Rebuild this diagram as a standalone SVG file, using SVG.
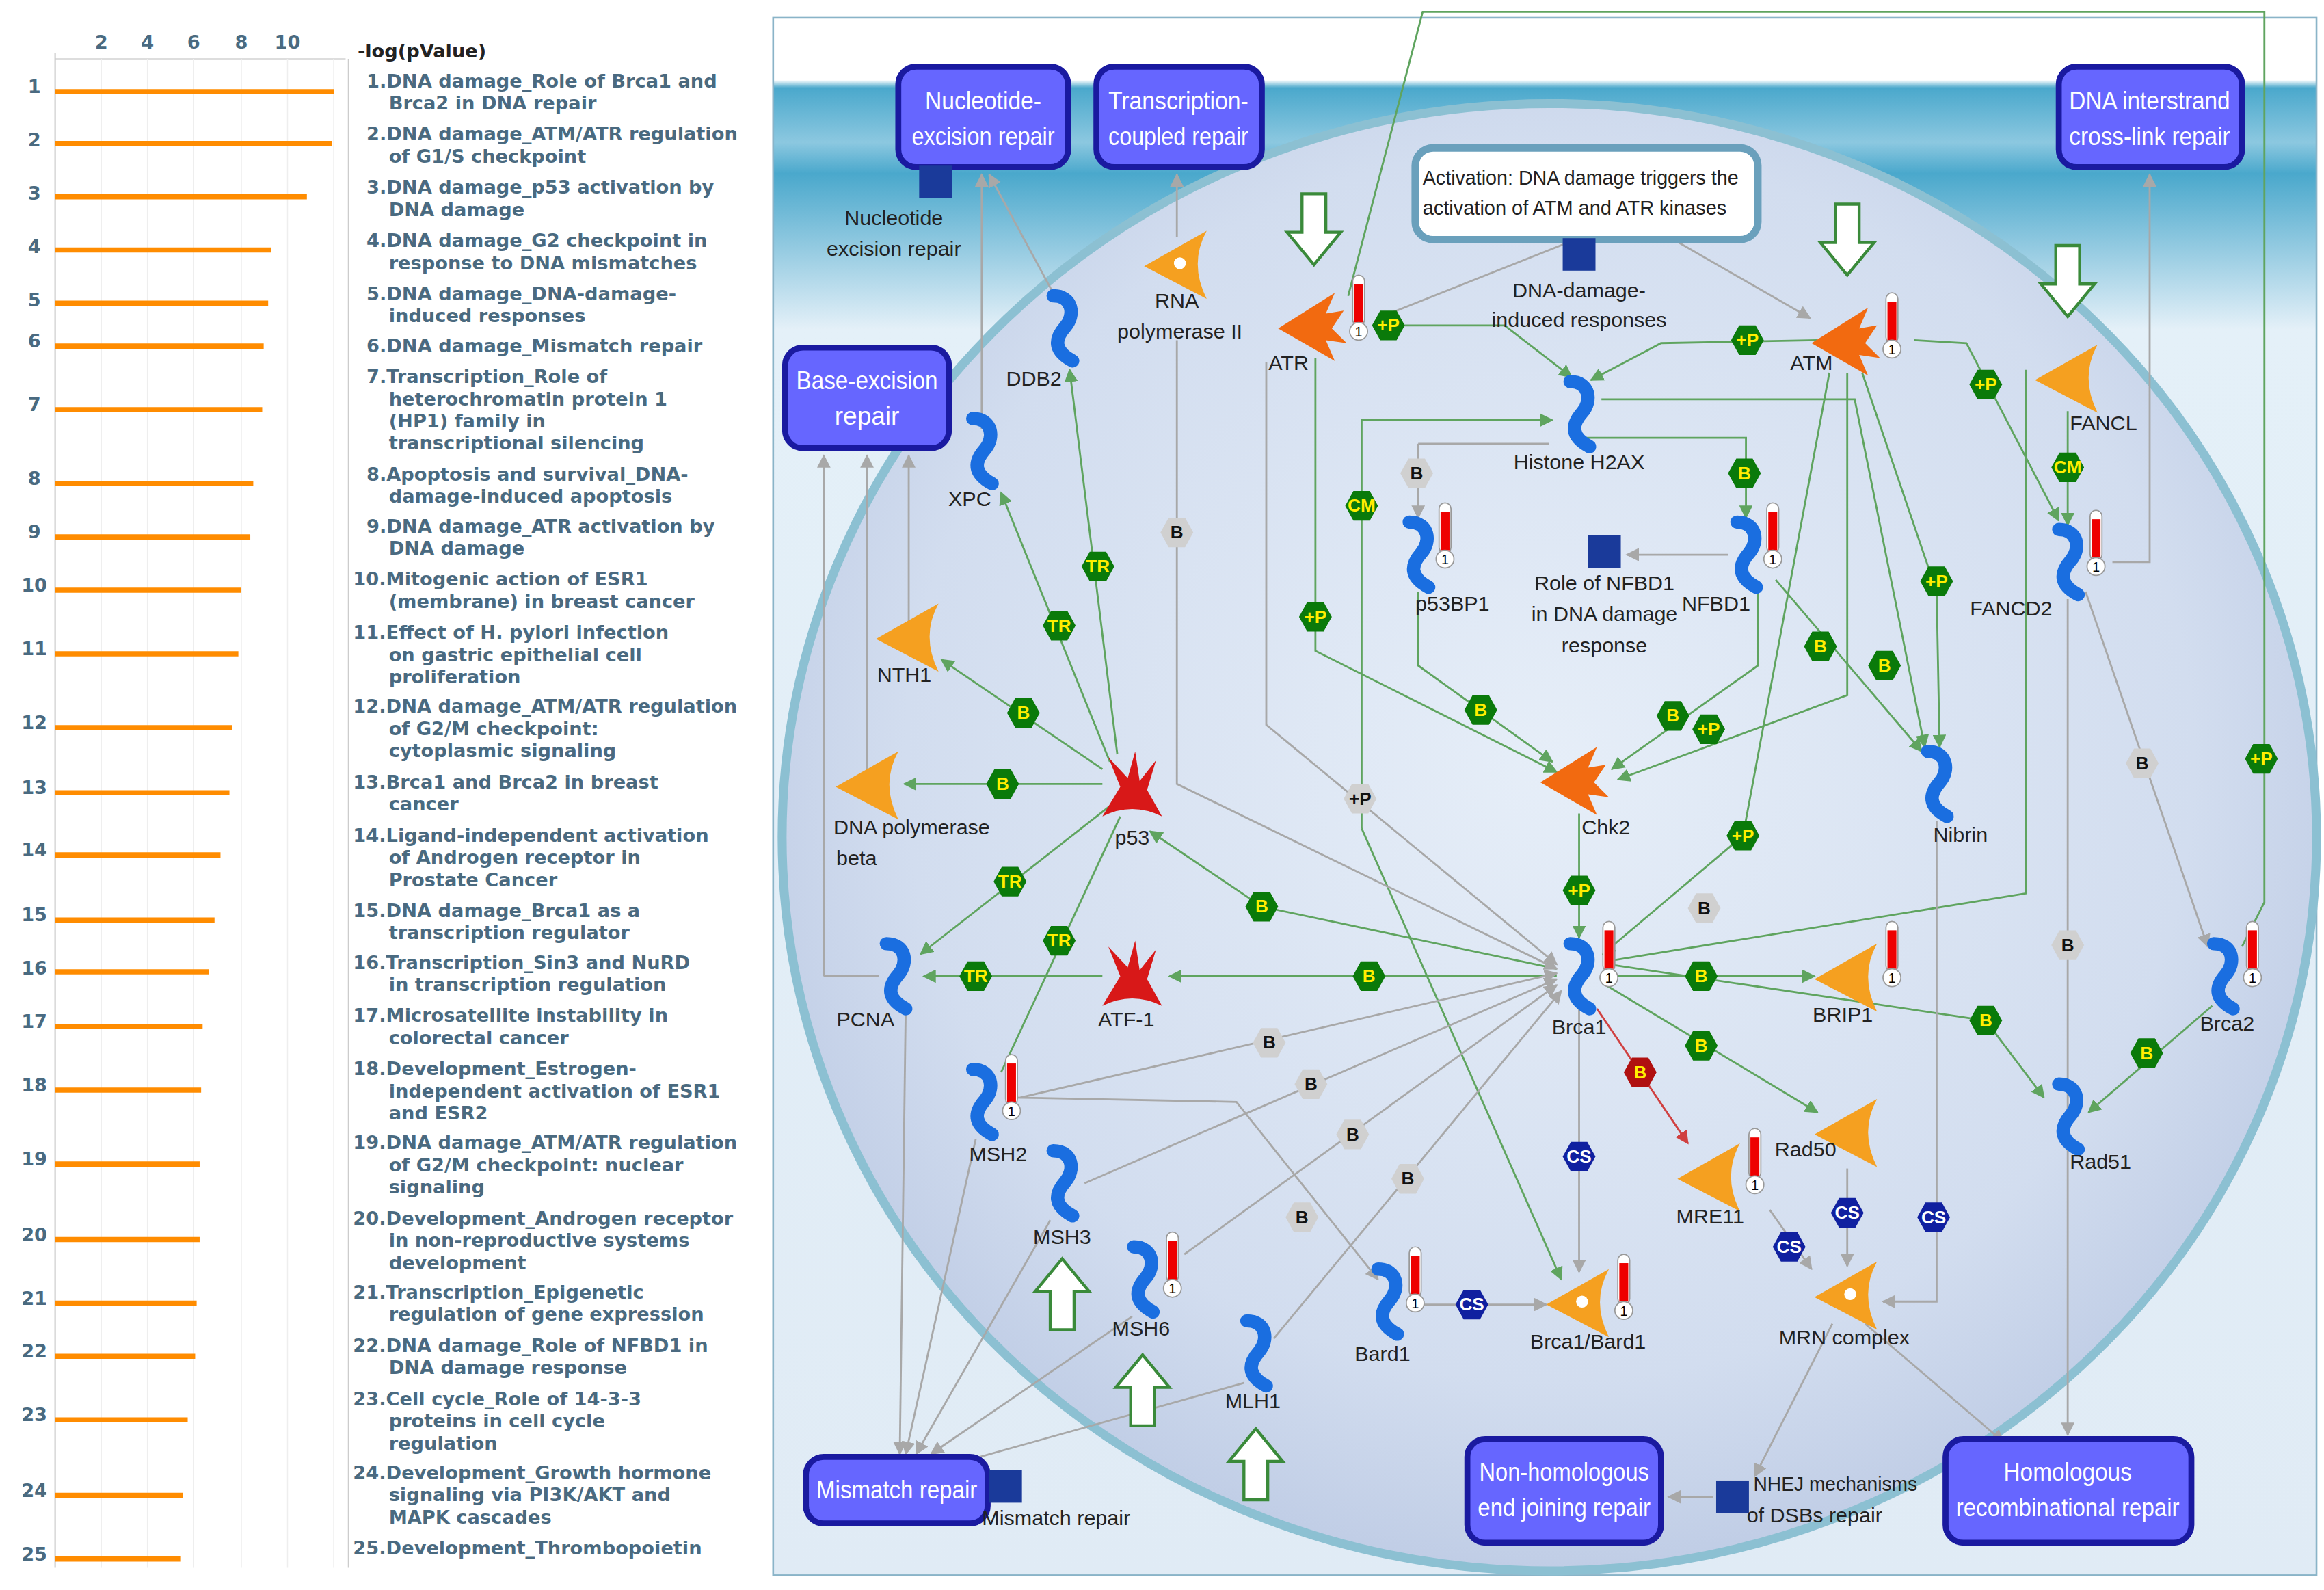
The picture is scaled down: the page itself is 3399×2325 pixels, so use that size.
<svg xmlns="http://www.w3.org/2000/svg" xmlns:xlink="http://www.w3.org/1999/xlink" width="3399" height="2325" viewBox="0 0 3399 2325">
<style>
.lbl{font-family:"Liberation Sans",Arial,sans-serif;font-size:14px;fill:#222;text-anchor:middle}
.box text{font-family:"Liberation Sans",Arial,sans-serif;font-size:17px;fill:#fff;text-anchor:middle}
.lst{font-family:"DejaVu Sans",sans-serif;font-weight:bold;font-size:12.5px;fill:#4a6a80}
.num{font-family:"DejaVu Sans",sans-serif;font-weight:bold;font-size:12.5px;fill:#4a6a80;text-anchor:middle}
.bar{stroke:#ff8c00;stroke-width:3.5}
.g{fill:none;stroke:#5fa45f;stroke-width:1.3}
.y{fill:none;stroke:#a8a8a8;stroke-width:1.3}
.r{fill:none;stroke:#d04040;stroke-width:1.3}
.hx text{font-family:"Liberation Sans",Arial,sans-serif;font-weight:bold;font-size:12px;text-anchor:middle}
</style>
<defs>
<marker id="ag" viewBox="0 0 10 10" refX="9" refY="5" markerWidth="7" markerHeight="7" orient="auto"><path d="M0,0L10,5L0,10z" fill="#5fa45f"/></marker>
<marker id="ay" viewBox="0 0 10 10" refX="9" refY="5" markerWidth="7" markerHeight="7" orient="auto"><path d="M0,0L10,5L0,10z" fill="#a8a8a8"/></marker>
<marker id="ar" viewBox="0 0 10 10" refX="9" refY="5" markerWidth="7" markerHeight="7" orient="auto"><path d="M0,0L10,5L0,10z" fill="#d04040"/></marker>
<radialGradient id="cell" cx="0.5" cy="0.45" r="0.6"><stop offset="0" stop-color="#e6eef8"/><stop offset="0.7" stop-color="#d2ddef"/><stop offset="1" stop-color="#b9c7e2"/></radialGradient>
<linearGradient id="bg" x1="0" y1="0" x2="0" y2="1"><stop offset="0" stop-color="#ffffff"/><stop offset="0.04" stop-color="#ffffff"/><stop offset="0.045" stop-color="#4aa8cc"/><stop offset="0.08" stop-color="#8cc8e0"/><stop offset="0.1" stop-color="#4aa8cc"/><stop offset="0.2" stop-color="#e4f0f8"/><stop offset="1" stop-color="#e0ebf5"/></linearGradient>
<symbol id="prot" overflow="visible"><path d="M-6,-22 C7,-22 9,-9 2,-1 C-5,7 -6,15 7,22" fill="none" stroke="#1a6ee0" stroke-width="9" stroke-linecap="round"/></symbol>
<symbol id="kin" overflow="visible"><path d="M-24,2 L14,-22 L8,-8 L20,-10 L12,2 L22,12 L8,10 L14,24 Z" fill="#f26a10"/></symbol>
<symbol id="cre" overflow="visible"><path d="M-22,2 L20,-22 Q8,0 20,24 Z" fill="#f5a020"/></symbol>
<symbol id="tf" overflow="visible"><path d="M-20,20 L-8,0 L-16,-20 L-3,-6 L2,-24 L5,-4 L16,-18 L10,2 L20,20 Q0,10 -20,20 Z" fill="#d81818"/></symbol>
<symbol id="th" overflow="visible"><rect x="-4" y="-22" width="8" height="34" rx="4" fill="#fff" stroke="#999" stroke-width="0.8"/><rect x="-3" y="-16" width="6" height="26" fill="#e00"/><circle cx="0" cy="16" r="6" fill="#fff" stroke="#999" stroke-width="0.8"/><text x="0" y="19.5" font-family="Liberation Sans,sans-serif" font-size="9" text-anchor="middle">1</text></symbol>
<symbol id="sq" overflow="visible"><rect x="-11" y="-11" width="22" height="22" fill="#1a3a9a"/></symbol>
<symbol id="hexg" overflow="visible"><polygon points="-5.5,-10 5.5,-10 11,0 5.5,10 -5.5,10 -11,0" fill="#0a7a0a"/></symbol>
<symbol id="hexy" overflow="visible"><polygon points="-5.5,-10 5.5,-10 11,0 5.5,10 -5.5,10 -11,0" fill="#d0d0d0"/></symbol>
<symbol id="hexc" overflow="visible"><polygon points="-5.5,-10 5.5,-10 11,0 5.5,10 -5.5,10 -11,0" fill="#1020a0"/></symbol>
<symbol id="hexr" overflow="visible"><polygon points="-5.5,-10 5.5,-10 11,0 5.5,10 -5.5,10 -11,0" fill="#b01010"/></symbol>
<symbol id="dn" overflow="visible"><path d="M-8,-34 L8,-34 L8,-8 L18,-8 L0,14 L-18,-8 L-8,-8 Z" fill="#fff" stroke="#3a8a3a" stroke-width="2"/></symbol>
<symbol id="up" overflow="visible"><path d="M-8,34 L8,34 L8,8 L18,8 L0,-14 L-18,8 L-8,8 Z" fill="#fff" stroke="#3a8a3a" stroke-width="2"/></symbol>
</defs>
<rect width="3399" height="2325" fill="#fff"/>
<g transform="scale(2.1788,2.1628)">
<g id="chart">
<line x1="37" y1="40" x2="232" y2="40" stroke="#bbb"/>
<line x1="37" y1="36" x2="37" y2="1060" stroke="#ccc"/>
<g stroke="#eee" stroke-width="0.7"><line x1="68" y1="40" x2="68" y2="1060"/><line x1="99" y1="40" x2="99" y2="1060"/><line x1="130" y1="40" x2="130" y2="1060"/><line x1="162" y1="40" x2="162" y2="1060"/><line x1="193" y1="40" x2="193" y2="1060"/><line x1="224" y1="40" x2="224" y2="1060"/></g>
<line x1="234" y1="40" x2="234" y2="1060" stroke="#ccc"/>
<g class="num"><text x="68" y="33">2</text><text x="99" y="33">4</text><text x="130" y="33">6</text><text x="162" y="33">8</text><text x="193" y="33">10</text></g>
<text x="240" y="39" font-family="DejaVu Sans,sans-serif" font-weight="bold" font-size="12.5" fill="#222">-log(pValue)</text>
<g class="bar">
<line x1="37" y1="62" x2="224" y2="62"/><line x1="37" y1="97" x2="223" y2="97"/><line x1="37" y1="133" x2="206" y2="133"/><line x1="37" y1="169" x2="182" y2="169"/><line x1="37" y1="205" x2="180" y2="205"/><line x1="37" y1="234" x2="177" y2="234"/><line x1="37" y1="277" x2="176" y2="277"/><line x1="37" y1="327" x2="170" y2="327"/><line x1="37" y1="363" x2="168" y2="363"/><line x1="37" y1="399" x2="162" y2="399"/><line x1="37" y1="442" x2="160" y2="442"/><line x1="37" y1="492" x2="156" y2="492"/><line x1="37" y1="536" x2="154" y2="536"/><line x1="37" y1="578" x2="148" y2="578"/><line x1="37" y1="622" x2="144" y2="622"/><line x1="37" y1="657" x2="140" y2="657"/><line x1="37" y1="694" x2="136" y2="694"/><line x1="37" y1="737" x2="135" y2="737"/><line x1="37" y1="787" x2="134" y2="787"/><line x1="37" y1="838" x2="134" y2="838"/><line x1="37" y1="881" x2="132" y2="881"/><line x1="37" y1="917" x2="131" y2="917"/><line x1="37" y1="960" x2="126" y2="960"/><line x1="37" y1="1011" x2="123" y2="1011"/><line x1="37" y1="1054" x2="121" y2="1054"/>
</g>
<g class="num">
<text x="23" y="63">1</text><text x="23" y="99">2</text><text x="23" y="135">3</text><text x="23" y="171">4</text><text x="23" y="207">5</text><text x="23" y="235">6</text><text x="23" y="278">7</text><text x="23" y="328">8</text><text x="23" y="364">9</text><text x="23" y="400">10</text><text x="23" y="443">11</text><text x="23" y="493">12</text><text x="23" y="537">13</text><text x="23" y="579">14</text><text x="23" y="623">15</text><text x="23" y="659">16</text><text x="23" y="695">17</text><text x="23" y="738">18</text><text x="23" y="788">19</text><text x="23" y="839">20</text><text x="23" y="882">21</text><text x="23" y="918">22</text><text x="23" y="961">23</text><text x="23" y="1012">24</text><text x="23" y="1055">25</text>
</g>
<g class="lst">
<text x="246" y="59">1.DNA damage_Role of Brca1 and</text><text x="261" y="74">Brca2 in DNA repair</text>
<text x="246" y="95">2.DNA damage_ATM/ATR regulation</text><text x="261" y="110">of G1/S checkpoint</text>
<text x="246" y="131">3.DNA damage_p53 activation by</text><text x="261" y="146">DNA damage</text>
<text x="246" y="167">4.DNA damage_G2 checkpoint in</text><text x="261" y="182">response to DNA mismatches</text>
<text x="246" y="203">5.DNA damage_DNA-damage-</text><text x="261" y="218">induced responses</text>
<text x="246" y="238">6.DNA damage_Mismatch repair</text>
<text x="246" y="259">7.Transcription_Role of</text><text x="261" y="274">heterochromatin protein 1</text><text x="261" y="289">(HP1) family in</text><text x="261" y="304">transcriptional silencing</text>
<text x="246" y="325">8.Apoptosis and survival_DNA-</text><text x="261" y="340">damage-induced apoptosis</text>
<text x="246" y="360">9.DNA damage_ATR activation by</text><text x="261" y="375">DNA damage</text>
<text x="237" y="396">10.Mitogenic action of ESR1</text><text x="261" y="411">(membrane) in breast cancer</text>
<text x="237" y="432">11.Effect of H. pylori infection</text><text x="261" y="447">on gastric epithelial cell</text><text x="261" y="462">proliferation</text>
<text x="237" y="482">12.DNA damage_ATM/ATR regulation</text><text x="261" y="497">of G2/M checkpoint:</text><text x="261" y="512">cytoplasmic signaling</text>
<text x="237" y="533">13.Brca1 and Brca2 in breast</text><text x="261" y="548">cancer</text>
<text x="237" y="569">14.Ligand-independent activation</text><text x="261" y="584">of Androgen receptor in</text><text x="261" y="599">Prostate Cancer</text>
<text x="237" y="620">15.DNA damage_Brca1 as a</text><text x="261" y="635">transcription regulator</text>
<text x="237" y="655">16.Transcription_Sin3 and NuRD</text><text x="261" y="670">in transcription regulation</text>
<text x="237" y="691">17.Microsatellite instability in</text><text x="261" y="706">colorectal cancer</text>
<text x="237" y="727">18.Development_Estrogen-</text><text x="261" y="742">independent activation of ESR1</text><text x="261" y="757">and ESR2</text>
<text x="237" y="777">19.DNA damage_ATM/ATR regulation</text><text x="261" y="792">of G2/M checkpoint: nuclear</text><text x="261" y="807">signaling</text>
<text x="237" y="828">20.Development_Androgen receptor</text><text x="261" y="843">in non-reproductive systems</text><text x="261" y="858">development</text>
<text x="237" y="878">21.Transcription_Epigenetic</text><text x="261" y="893">regulation of gene expression</text>
<text x="237" y="914">22.DNA damage_Role of NFBD1 in</text><text x="261" y="929">DNA damage response</text>
<text x="237" y="950">23.Cell cycle_Role of 14-3-3</text><text x="261" y="965">proteins in cell cycle</text><text x="261" y="980">regulation</text>
<text x="237" y="1000">24.Development_Growth hormone</text><text x="261" y="1015">signaling via PI3K/AKT and</text><text x="261" y="1030">MAPK cascades</text>
<text x="237" y="1051">25.Development_Thrombopoietin</text>
</g>
</g>
<g id="background">
<rect x="519" y="12" width="1036" height="1053" fill="url(#bg)" stroke="#8ab4c8" stroke-width="1.2"/>
<ellipse cx="1040" cy="566" rx="515" ry="496" fill="url(#cell)" stroke="#8cc0d2" stroke-width="6"/>
</g>
<g id="connectors">
<path class="g" d="M750,510 L718,250" marker-end="url(#ag)"/>
<path class="g" d="M745,515 L672,333" marker-end="url(#ag)"/>
<path class="g" d="M740,520 L632,446" marker-end="url(#ag)"/>
<path class="g" d="M740,530 L607,530" marker-end="url(#ag)"/>
<path class="g" d="M745,545 L618,645" marker-end="url(#ag)"/>
<path class="g" d="M752,552 L672,725"/>
<path class="g" d="M1045,655 L847,613 L772,562" marker-end="url(#ag)"/>
<path class="g" d="M1045,660 L785,660" marker-end="url(#ag)"/>
<path class="g" d="M740,660 L620,660" marker-end="url(#ag)"/>
<path class="g" d="M925,220 L1010,220 L1055,255" marker-end="url(#ag)"/>
<path class="g" d="M1220,230 L1115,232 L1068,257" marker-end="url(#ag)"/>
<path class="g" d="M1285,230 L1320,232 L1382,352" marker-end="url(#ag)"/>
<path class="g" d="M1250,252 L1300,400 L1302,505" marker-end="url(#ag)"/>
<path class="g" d="M883,242 L883,440 L1045,522" marker-end="url(#ag)"/>
<path class="g" d="M914,560 L914,284 L1042,284" marker-end="url(#ag)"/>
<path class="g" d="M914,560 L1048,865" marker-end="url(#ag)"/>
<path class="y" d="M952,300 L1040,300"/>
<path class="y" d="M952,300 L952,350" marker-end="url(#ay)"/>
<path class="g" d="M952,400 L952,450 L1042,515" marker-end="url(#ag)"/>
<path class="g" d="M1180,400 L1180,450 L1082,520" marker-end="url(#ag)"/>
<path class="g" d="M1240,252 L1240,470 L1086,527" marker-end="url(#ag)"/>
<path class="g" d="M1060,296 L1172,296 L1172,350" marker-end="url(#ag)"/>
<path class="g" d="M1075,270 L1245,270 L1292,505" marker-end="url(#ag)"/>
<path class="g" d="M1192,392 L1290,508" marker-end="url(#ag)"/>
<path class="g" d="M1060,550 L1060,634" marker-end="url(#ag)"/>
<path class="g" d="M1228,252 L1170,565 L1076,645" marker-end="url(#ag)"/>
<path class="g" d="M1388,278 L1388,355" marker-end="url(#ag)"/>
<path class="g" d="M1078,660 L1218,660" marker-end="url(#ag)"/>
<path class="g" d="M1078,666 L1220,752" marker-end="url(#ag)"/>
<path class="g" d="M1080,652 L1333,690 L1372,742" marker-end="url(#ag)"/>
<path class="g" d="M1485,680 L1402,752" marker-end="url(#ag)"/>
<path class="g" d="M1505,640 L1520,610 L1520,8 L955,8 L905,200"/>
<path class="g" d="M1078,650 L1360,604 L1360,250"/>
<path class="y" d="M659,290 L659,118" marker-end="url(#ay)"/>
<path class="y" d="M708,200 L664,118" marker-end="url(#ay)"/>
<path class="y" d="M790,160 L790,118" marker-end="url(#ay)"/>
<path class="y" d="M790,230 L790,530 L1045,655" marker-end="url(#ay)"/>
<path class="y" d="M553,660 L553,308" marker-end="url(#ay)"/>
<path class="y" d="M582,530 L582,308" marker-end="url(#ay)"/>
<path class="y" d="M610,420 L610,308" marker-end="url(#ay)"/>
<path class="y" d="M553,660 L590,660"/>
<path class="y" d="M608,680 L604,983" marker-end="url(#ay)"/>
<path class="y" d="M655,770 L608,983" marker-end="url(#ay)"/>
<path class="y" d="M705,825 L615,983" marker-end="url(#ay)"/>
<path class="y" d="M760,890 L625,983" marker-end="url(#ay)"/>
<path class="y" d="M835,935 L640,990" marker-end="url(#ay)"/>
<path class="y" d="M685,742 L1045,658" marker-end="url(#ay)"/>
<path class="y" d="M728,800 L1045,662" marker-end="url(#ay)"/>
<path class="y" d="M795,848 L1045,666" marker-end="url(#ay)"/>
<path class="y" d="M855,905 L1048,670" marker-end="url(#ay)"/>
<path class="y" d="M680,742 L830,745 L925,865" marker-end="url(#ay)"/>
<path class="y" d="M1060,682 L1060,860" marker-end="url(#ay)"/>
<path class="y" d="M955,882 L1038,882" marker-end="url(#ay)"/>
<path class="y" d="M1188,818 L1216,858" marker-end="url(#ay)"/>
<path class="y" d="M1240,790 L1240,856" marker-end="url(#ay)"/>
<path class="y" d="M1300,555 L1300,880 L1264,880" marker-end="url(#ay)"/>
<path class="y" d="M1230,895 L1178,998" marker-end="url(#ay)"/>
<path class="y" d="M1252,895 L1345,975" marker-end="url(#ay)"/>
<path class="y" d="M1150,1012 L1120,1012" marker-end="url(#ay)"/>
<path class="y" d="M1400,400 L1482,640" marker-end="url(#ay)"/>
<path class="y" d="M1388,405 L1388,970" marker-end="url(#ay)"/>
<path class="y" d="M1418,380 L1443,380 L1443,118" marker-end="url(#ay)"/>
<path class="y" d="M1050,165 L925,215" />
<path class="y" d="M1120,160 L1215,215" marker-end="url(#ay)"/>
<path class="y" d="M850,245 L850,490 L1045,652" marker-end="url(#ay)"/>
<path class="y" d="M1160,375 L1092,375" marker-end="url(#ay)"/>
<path class="r" d="M1072,682 L1133,773" marker-end="url(#ar)"/>
</g>
<g id="boxes" class="box">
<g id="ner"><rect x="603" y="45" width="114" height="68" rx="12" fill="#6666ff" stroke="#1a1aa0" stroke-width="4"/><text x="660" y="74" textLength="78" lengthAdjust="spacingAndGlyphs">Nucleotide-</text><text x="660" y="98" textLength="96" lengthAdjust="spacingAndGlyphs">excision repair</text></g>
<g id="tcr"><rect x="736" y="45" width="111" height="68" rx="12" fill="#6666ff" stroke="#1a1aa0" stroke-width="4"/><text x="791" y="74" textLength="94" lengthAdjust="spacingAndGlyphs">Transcription-</text><text x="791" y="98" textLength="94" lengthAdjust="spacingAndGlyphs">coupled repair</text></g>
<g id="icl"><rect x="1382" y="45" width="123" height="68" rx="12" fill="#6666ff" stroke="#1a1aa0" stroke-width="4"/><text x="1443" y="74" textLength="108" lengthAdjust="spacingAndGlyphs">DNA interstrand</text><text x="1443" y="98" textLength="108" lengthAdjust="spacingAndGlyphs">cross-link repair</text></g>
<g id="ber"><rect x="527" y="235" width="110" height="68" rx="12" fill="#6666ff" stroke="#1a1aa0" stroke-width="4"/><text x="582" y="263" textLength="95" lengthAdjust="spacingAndGlyphs">Base-excision</text><text x="582" y="287">repair</text></g>
<g id="mmr"><rect x="541" y="985" width="122" height="45" rx="12" fill="#6666ff" stroke="#1a1aa0" stroke-width="4"/><text x="602" y="1013" textLength="108" lengthAdjust="spacingAndGlyphs">Mismatch repair</text></g>
<g id="nhej"><rect x="985" y="973" width="130" height="70" rx="12" fill="#6666ff" stroke="#1a1aa0" stroke-width="4"/><text x="1050" y="1001" textLength="114" lengthAdjust="spacingAndGlyphs">Non-homologous</text><text x="1050" y="1025" textLength="116" lengthAdjust="spacingAndGlyphs">end joining repair</text></g>
<g id="hr"><rect x="1306" y="973" width="165" height="70" rx="12" fill="#6666ff" stroke="#1a1aa0" stroke-width="4"/><text x="1388" y="1001" textLength="86" lengthAdjust="spacingAndGlyphs">Homologous</text><text x="1388" y="1025" textLength="150" lengthAdjust="spacingAndGlyphs">recombinational repair</text></g>
</g>
<g id="note"><rect x="950" y="100" width="230" height="62" rx="12" fill="#fff" stroke="#6aa0bc" stroke-width="5"/><text class="lbl" x="955" y="125" style="text-anchor:start" textLength="212" lengthAdjust="spacingAndGlyphs">Activation: DNA damage triggers the</text><text class="lbl" x="955" y="145" style="text-anchor:start" textLength="204" lengthAdjust="spacingAndGlyphs">activation of ATM and ATR kinases</text></g>
<g id="processes">
<g id="p-ner"><use href="#sq" x="628" y="123"/><text class="lbl" x="600" y="152">Nucleotide</text><text class="lbl" x="600" y="173">excision repair</text></g>
<g id="p-ddr"><use href="#sq" x="1060" y="172"/><text class="lbl" x="1060" y="201">DNA-damage-</text><text class="lbl" x="1060" y="221">induced responses</text></g>
<g id="p-nfbd"><use href="#sq" x="1077" y="373"/><text class="lbl" x="1077" y="399">Role of NFBD1</text><text class="lbl" x="1077" y="420">in DNA damage</text><text class="lbl" x="1077" y="441">response</text></g>
<g id="p-mmr"><use href="#sq" x="675" y="1005"/><text class="lbl" x="709" y="1031">Mismatch repair</text></g>
<g id="p-nhej"><use href="#sq" x="1163" y="1012"/><text class="lbl" x="1232" y="1008" textLength="110" lengthAdjust="spacingAndGlyphs">NHEJ mechanisms</text><text class="lbl" x="1218" y="1029">of DSBs repair</text></g>
</g>
<g id="arrows"><use href="#dn" x="882" y="165"/><use href="#dn" x="1240" y="172"/><use href="#dn" x="1388" y="200"/><use href="#up" x="713" y="865"/><use href="#up" x="767" y="930"/><use href="#up" x="843" y="980"/></g>
<g id="proteins">
<g id="ddb2"><use href="#prot" x="713" y="222"/><text class="lbl" x="694" y="261">DDB2</text></g>
<g id="xpc"><use href="#prot" x="659" y="305"/><text class="lbl" x="651" y="342">XPC</text></g>
<g id="h2ax"><use href="#prot" x="1060" y="280"/><text class="lbl" x="1060" y="317">Histone H2AX</text></g>
<g id="p53bp1"><use href="#prot" x="952" y="375"/><use href="#th" x="970" y="362"/><text class="lbl" x="975" y="413">p53BP1</text></g>
<g id="nfbd1"><use href="#prot" x="1172" y="375"/><use href="#th" x="1190" y="362"/><text class="lbl" x="1152" y="413">NFBD1</text></g>
<g id="fancd2"><use href="#prot" x="1388" y="380"/><use href="#th" x="1407" y="367"/><text class="lbl" x="1350" y="416">FANCD2</text></g>
<g id="nibrin"><use href="#prot" x="1300" y="530"/><text class="lbl" x="1316" y="569">Nibrin</text></g>
<g id="brca1"><use href="#prot" x="1060" y="660"/><use href="#th" x="1080" y="645"/><text class="lbl" x="1060" y="699">Brca1</text></g>
<g id="pcna"><use href="#prot" x="601" y="660"/><text class="lbl" x="581" y="694">PCNA</text></g>
<g id="msh2"><use href="#prot" x="659" y="745"/><use href="#th" x="679" y="735"/><text class="lbl" x="670" y="785">MSH2</text></g>
<g id="msh3"><use href="#prot" x="713" y="800"/><text class="lbl" x="713" y="841">MSH3</text></g>
<g id="msh6"><use href="#prot" x="767" y="865"/><use href="#th" x="787" y="855"/><text class="lbl" x="766" y="903">MSH6</text></g>
<g id="mlh1"><use href="#prot" x="843" y="915"/><text class="lbl" x="841" y="952">MLH1</text></g>
<g id="bard1"><use href="#prot" x="931" y="880"/><use href="#th" x="950" y="865"/><text class="lbl" x="928" y="920">Bard1</text></g>
<g id="brca2"><use href="#prot" x="1492" y="660"/><use href="#th" x="1512" y="645"/><text class="lbl" x="1495" y="697">Brca2</text></g>
<g id="rad51"><use href="#prot" x="1388" y="755"/><text class="lbl" x="1410" y="790">Rad51</text></g>
<g id="atr"><use href="#kin" x="882" y="220"/><use href="#th" x="912" y="208"/><text class="lbl" x="865" y="250">ATR</text></g>
<g id="atm"><use href="#kin" x="1240" y="230"/><use href="#th" x="1270" y="220"/><text class="lbl" x="1216" y="250">ATM</text></g>
<g id="chk2"><use href="#kin" x="1058" y="527"/><text class="lbl" x="1078" y="564">Chk2</text></g>
<g id="rnapol"><use href="#cre" x="790" y="178"/><circle cx="792" cy="178" r="4" fill="#fff"/><text class="lbl" x="790" y="208">RNA</text><text class="lbl" x="792" y="229">polymerase II</text></g>
<g id="nth1"><use href="#cre" x="610" y="430"/><text class="lbl" x="607" y="461">NTH1</text></g>
<g id="polb"><use href="#cre" x="583" y="530"/><text class="lbl" x="612" y="564">DNA polymerase</text><text class="lbl" x="575" y="585">beta</text></g>
<g id="fancl"><use href="#cre" x="1388" y="255"/><text class="lbl" x="1412" y="291">FANCL</text></g>
<g id="brip1"><use href="#cre" x="1240" y="660"/><use href="#th" x="1270" y="645"/><text class="lbl" x="1237" y="691">BRIP1</text></g>
<g id="rad50"><use href="#cre" x="1240" y="765"/><text class="lbl" x="1212" y="782">Rad50</text></g>
<g id="mre11"><use href="#cre" x="1148" y="795"/><use href="#th" x="1178" y="785"/><text class="lbl" x="1148" y="827">MRE11</text></g>
<g id="brcabard"><use href="#cre" x="1060" y="880"/><circle cx="1062" cy="880" r="4" fill="#fff"/><use href="#th" x="1090" y="870"/><text class="lbl" x="1066" y="912">Brca1/Bard1</text></g>
<g id="mrn"><use href="#cre" x="1240" y="875"/><circle cx="1242" cy="875" r="4" fill="#fff"/><text class="lbl" x="1238" y="909">MRN complex</text></g>
<g id="p53"><use href="#tf" x="760" y="532"/><text class="lbl" x="760" y="571">p53</text></g>
<g id="atf1"><use href="#tf" x="760" y="660"/><text class="lbl" x="756" y="694">ATF-1</text></g>
</g>
<g id="effects" class="hx">
<g fill="#ffee00"><use href="#hexg" x="932" y="220"/><text x="932" y="224">+P</text><use href="#hexg" x="1173" y="230"/><text x="1173" y="234">+P</text><use href="#hexg" x="1333" y="260"/><text x="1333" y="264">+P</text><use href="#hexg" x="1300" y="393"/><text x="1300" y="397">+P</text><use href="#hexg" x="883" y="417"/><text x="883" y="421">+P</text><use href="#hexg" x="1147" y="493"/><text x="1147" y="497">+P</text><use href="#hexg" x="1170" y="565"/><text x="1170" y="569">+P</text><use href="#hexg" x="1060" y="602"/><text x="1060" y="606">+P</text><use href="#hexg" x="1518" y="513"/><text x="1518" y="517">+P</text>
<use href="#hexg" x="737" y="383"/><text x="737" y="387">TR</text><use href="#hexg" x="711" y="423"/><text x="711" y="427">TR</text><use href="#hexg" x="678" y="596"/><text x="678" y="600">TR</text><use href="#hexg" x="711" y="636"/><text x="711" y="640">TR</text><use href="#hexg" x="655" y="660"/><text x="655" y="664">TR</text>
<use href="#hexg" x="914" y="342"/><text x="914" y="346">CM</text><use href="#hexg" x="1388" y="316"/><text x="1388" y="320">CM</text>
<use href="#hexg" x="687" y="482"/><text x="687" y="486">B</text><use href="#hexg" x="673" y="530"/><text x="673" y="534">B</text><use href="#hexg" x="847" y="613"/><text x="847" y="617">B</text><use href="#hexg" x="919" y="660"/><text x="919" y="664">B</text><use href="#hexg" x="1171" y="320"/><text x="1171" y="324">B</text><use href="#hexg" x="1222" y="437"/><text x="1222" y="441">B</text><use href="#hexg" x="1265" y="450"/><text x="1265" y="454">B</text><use href="#hexg" x="994" y="480"/><text x="994" y="484">B</text><use href="#hexg" x="1123" y="484"/><text x="1123" y="488">B</text><use href="#hexg" x="1142" y="660"/><text x="1142" y="664">B</text><use href="#hexg" x="1142" y="707"/><text x="1142" y="711">B</text><use href="#hexg" x="1333" y="690"/><text x="1333" y="694">B</text><use href="#hexg" x="1441" y="712"/><text x="1441" y="716">B</text>
<use href="#hexr" x="1101" y="725"/><text x="1101" y="729">B</text></g>
<g fill="#111"><use href="#hexy" x="790" y="360"/><text x="790" y="364">B</text><use href="#hexy" x="951" y="320"/><text x="951" y="324">B</text><use href="#hexy" x="1144" y="614"/><text x="1144" y="618">B</text><use href="#hexy" x="1388" y="639"/><text x="1388" y="643">B</text><use href="#hexy" x="1438" y="516"/><text x="1438" y="520">B</text><use href="#hexy" x="852" y="705"/><text x="852" y="709">B</text><use href="#hexy" x="880" y="733"/><text x="880" y="737">B</text><use href="#hexy" x="908" y="767"/><text x="908" y="771">B</text><use href="#hexy" x="945" y="797"/><text x="945" y="801">B</text><use href="#hexy" x="874" y="823"/><text x="874" y="827">B</text><use href="#hexy" x="913" y="540"/><text x="913" y="544">+P</text></g>
<g fill="#fff"><use href="#hexc" x="1060" y="782"/><text x="1060" y="786">CS</text><use href="#hexc" x="988" y="882"/><text x="988" y="886">CS</text><use href="#hexc" x="1240" y="820"/><text x="1240" y="824">CS</text><use href="#hexc" x="1201" y="843"/><text x="1201" y="847">CS</text><use href="#hexc" x="1298" y="823"/><text x="1298" y="827">CS</text></g>
</g>
</g>
</svg>
